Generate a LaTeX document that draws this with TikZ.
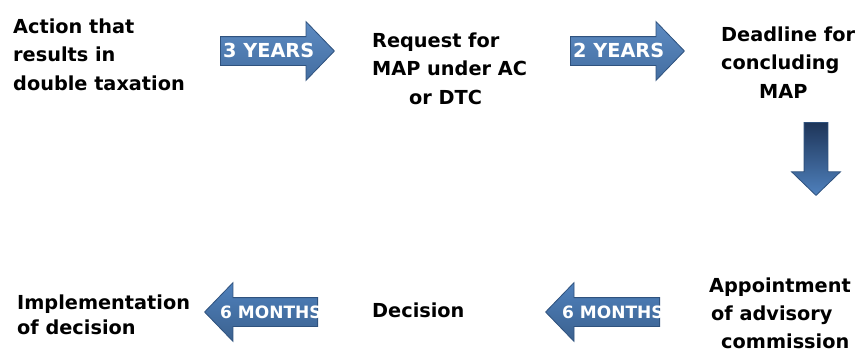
\documentclass[tikz,border=0pt]{standalone}
\usepackage{fontspec}
\setmainfont{DejaVu Sans}
\usetikzlibrary{shapes.arrows}

\definecolor{arrowblue}{HTML}{4F81BD}
\definecolor{arrowdark}{HTML}{2F527E}
\definecolor{arrownavy}{HTML}{1E3559}

\begin{document}
\begin{tikzpicture}[x=1pt, y=-1pt,
  stagetext/.style={font=\bfseries\fontsize{19.3}{28.5}\selectfont, align=left, inner sep=0pt, anchor=base west},
  blockarrow/.style={single arrow, draw=arrowdark, line width=0.8pt, top color=arrowblue!92!white, bottom color=arrowblue!85!black,
    inner xsep=0pt, inner ysep=14pt, single arrow head extend=15pt, single arrow tip angle=92, minimum height=114pt, anchor=tail},
  arrowtext/.style={text=white, inner sep=0pt, anchor=base west}]
\useasboundingbox (0,0) rectangle (858,349);

% block arrows between the stages
\node (yearsA) [blockarrow] at (220,51) {};
\node (yearsB) [blockarrow] at (570,51) {};
\node (down) [blockarrow, shape border rotate=270, inner xsep=11.5pt, inner ysep=0pt, single arrow head extend=12.5pt, minimum height=73pt, top color=arrownavy, bottom color=arrowblue] at (816,122) {};
\node (monthsA) [blockarrow, shape border rotate=180, minimum height=113pt, top color=arrowblue, bottom color=arrowblue!75!black] at (318,312) {};
\node (monthsB) [blockarrow, shape border rotate=180, top color=arrowblue, bottom color=arrowblue!75!black] at (660,312) {};

\node [arrowtext, font=\bfseries\fontsize{19.3}{20}\selectfont] at (223,57) {3 YEARS};
\node [arrowtext, font=\bfseries\fontsize{19.3}{20}\selectfont] at (573,57) {2 YEARS};
\node [arrowtext, font=\bfseries\fontsize{17}{18}\selectfont] at (220,318) {6 MONTHS};
\node [arrowtext, font=\bfseries\fontsize{17}{18}\selectfont] at (562,318) {6 MONTHS};

% stages (base anchor sits on the last line)
\node (action) [stagetext] at (13,90) {Action that\\results in\\double taxation};
\node (request) [stagetext] at (372,104) {Request for\\MAP under AC\\\hspace*{37pt}or DTC};
\node (deadline) [stagetext] at (721,98) {Deadline for\\concluding\\\hspace*{38pt}MAP};
\node (advisory) [stagetext, font=\bfseries\fontsize{19.3}{28}\selectfont] at (709,348) {Appointment\\\hspace*{2pt}of advisory\\\hspace*{12pt}commission};
\node (decision) [stagetext] at (372,317) {Decision};
\node (implement) [stagetext, font=\bfseries\fontsize{19.3}{25}\selectfont] at (17,334) {Implementation\\of decision};
\end{tikzpicture}
\end{document}
